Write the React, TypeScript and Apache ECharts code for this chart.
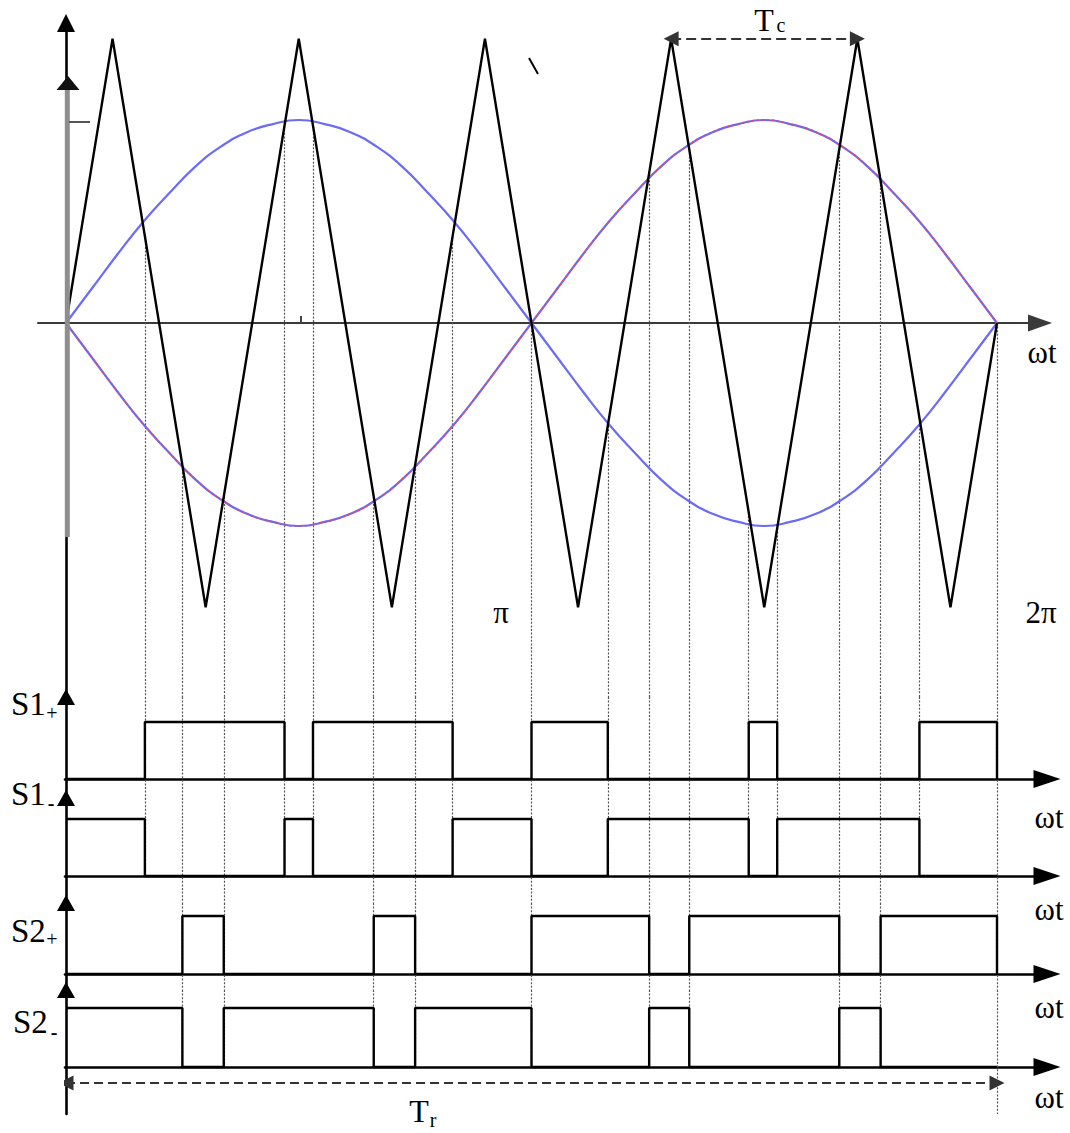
import React, { useEffect, useRef } from "react";
import * as echarts from "echarts";

// ---- data (angles in degrees, 360 = 2π) ----

// sample angles of the two reference sinusoids
const refAngles = [
  0, 10, 20, 30, 40, 50, 60, 70, 80, 90, 100, 110, 120, 130, 140, 150, 160, 170, 180,
  190, 200, 210, 220, 230, 240, 250, 260, 270, 280, 290, 300, 310, 320, 330, 340, 350, 360,
];
// reference for leg 1 (blue)
const refLeg1 = [
  0, 0.17, 0.34, 0.5, 0.64, 0.77, 0.87, 0.94, 0.98, 1, 0.98, 0.94, 0.87, 0.77, 0.64, 0.5, 0.34, 0.17, 0,
  -0.17, -0.34, -0.5, -0.64, -0.77, -0.87, -0.94, -0.98, -1, -0.98, -0.94, -0.87, -0.77, -0.64, -0.5, -0.34, -0.17, 0,
];
// reference for leg 2 (inverted)
const refLeg2 = [
  0, -0.17, -0.34, -0.5, -0.64, -0.77, -0.87, -0.94, -0.98, -1, -0.98, -0.94, -0.87, -0.77, -0.64, -0.5, -0.34, -0.17, 0,
  0.17, 0.34, 0.5, 0.64, 0.77, 0.87, 0.94, 0.98, 1, 0.98, 0.94, 0.87, 0.77, 0.64, 0.5, 0.34, 0.17, 0,
];

// triangular carrier vertices
const carrierAngles = [0, 18, 54, 90, 126, 162, 198, 234, 270, 306, 342, 360];
const carrierLevels = [0, 1.4, -1.4, 1.4, -1.4, 1.4, -1.4, 1.4, -1.4, 1.4, -1.4, 0];

// switching instants of leg 1 and leg 2
const s1Edges = [30.5, 84.5, 95.5, 149.5, 180, 209.5, 264, 275, 330, 360];
const s2Edges = [45, 61, 119, 135, 180, 225.5, 241, 299, 315, 360];

// ---- layout ----
const FONT = "'Liberation Serif', 'DejaVu Serif', serif";
const X0 = 66; // pixel of ωt = 0
const X360 = 997; // pixel of ωt = 2π
const PX_PER_DEG = (X360 - X0) / 360;
const toDeg = (px: number) => (px - X0) / PX_PER_DEG;

type Panel = { top: number; bottom: number; zero: number; unit: number; left: number; right: number };
const panels: Panel[] = [
  { top: 23, bottom: 697, zero: 323, unit: 203, left: 38, right: 1040 },
  { top: 697, bottom: 798, zero: 779, unit: 57, left: 65, right: 1047 },
  { top: 798, bottom: 903, zero: 876, unit: 57, left: 65, right: 1047 },
  { top: 903, bottom: 990, zero: 974, unit: 58, left: 65, right: 1047 },
  { top: 990, bottom: 1114, zero: 1067, unit: 59, left: 65, right: 1047 },
];
const yMin = (i: number) => (panels[i].zero - panels[i].bottom) / panels[i].unit;
const yMax = (i: number) => (panels[i].zero - panels[i].top) / panels[i].unit;

function carrierAt(a: number) {
  for (let i = 1; i < carrierAngles.length; i++) {
    if (a <= carrierAngles[i]) {
      const a0 = carrierAngles[i - 1];
      const a1 = carrierAngles[i];
      const t = (a - a0) / (a1 - a0);
      return carrierLevels[i - 1] + t * (carrierLevels[i] - carrierLevels[i - 1]);
    }
  }
  return carrierLevels[carrierLevels.length - 1];
}

function stepTrace(edges: number[], startLevel: number, toggleLast: boolean) {
  let level = startLevel;
  const pts: number[][] = [[0, level]];
  edges.forEach((e, i) => {
    pts.push([e, level]);
    if (i < edges.length - 1 || toggleLast) {
      level = 1 - level;
      pts.push([e, level]);
    }
  });
  return pts;
}

function buildOption() {
  const grids = panels.map((p) => ({
    left: p.left,
    top: p.top,
    width: p.right - p.left,
    height: p.bottom - p.top,
    containLabel: false,
    outerBoundsMode: "none",
  }));

  const xAxes = panels.map((p, i) => ({
    type: "value",
    gridIndex: i,
    min: toDeg(p.left),
    max: toDeg(p.right),
    axisLine: {
      show: true,
      onZero: true,
      symbol: ["none", "triangle"],
      symbolSize: i === 0 ? [17, 24] : [18, 27],
      lineStyle: { color: i === 0 ? "#3a3a3a" : "#000", width: i === 0 ? 2 : 2.6 },
    },
    axisTick: { show: false },
    axisLabel: { show: false },
    splitLine: { show: false },
  }));

  const yAxes = panels.map((p, i) => ({
    type: "value",
    gridIndex: i,
    min: yMin(i),
    max: yMax(i),
    axisLine: {
      show: true,
      onZero: true,
      symbol: ["none", "triangle"],
      symbolSize: [18, i === 0 ? 18 : 16],
      lineStyle: { color: "#000", width: 2.6 },
    },
    axisTick: { show: false },
    axisLabel: { show: false },
    splitLine: { show: false },
  }));

  // dotted projection lines from each switching instant
  const edgeSet = Array.from(new Set([...s1Edges, ...s2Edges])).sort((a, b) => a - b);
  const lastEdge = edgeSet[edgeSet.length - 1];
  const dotSegs: number[][][][] = panels.map(() => []);
  edgeSet.forEach((e) => {
    const depth = s2Edges.includes(e) ? 4 : 2;
    for (let i = 0; i <= depth; i++) {
      const from = i === 0 ? carrierAt(e) : yMax(i);
      const to = i === depth && e !== lastEdge ? 0 : yMin(i);
      dotSegs[i].push([
        [e, from],
        [e, to],
      ]);
    }
  });

  const series: any[] = [];

  dotSegs.forEach((segs, i) => {
    series.push({
      type: "lines",
      coordinateSystem: "cartesian2d",
      xAxisIndex: i,
      yAxisIndex: i,
      silent: true,
      z: 1,
      lineStyle: { color: "#555", width: 1.2, type: [2, 1.6], opacity: 1 },
      data: segs.map((c) => ({ coords: c })),
    });
  });

  // reference sinusoids
  series.push({
    type: "line",
    xAxisIndex: 0,
    yAxisIndex: 0,
    smooth: true,
    symbol: "none",
    z: 3,
    lineStyle: { color: "#6b6bf6", width: 2.2 },
    data: refAngles.map((a, i) => [a, refLeg1[i]]),
  });
  series.push({
    type: "line",
    xAxisIndex: 0,
    yAxisIndex: 0,
    smooth: true,
    symbol: "none",
    z: 3,
    lineStyle: { color: "#6b6bf6", width: 2.2 },
    data: refAngles.map((a, i) => [a, refLeg2[i]]),
  });
  series.push({
    type: "line",
    xAxisIndex: 0,
    yAxisIndex: 0,
    smooth: true,
    symbol: "none",
    z: 3,
    lineStyle: { color: "#e4466c", width: 1.6, type: [2, 3] },
    data: refAngles.map((a, i) => [a, refLeg2[i]]),
  });

  // triangular carrier
  series.push({
    type: "line",
    xAxisIndex: 0,
    yAxisIndex: 0,
    symbol: "none",
    z: 4,
    lineStyle: { color: "#000", width: 2.4 },
    data: carrierAngles.map((a, i) => [a, carrierLevels[i]]),
  });

  // carrier period Tc between two successive peaks
  series.push({
    type: "lines",
    coordinateSystem: "cartesian2d",
    xAxisIndex: 0,
    yAxisIndex: 0,
    silent: true,
    z: 5,
    symbol: ["triangle", "triangle"],
    symbolSize: 15,
    lineStyle: { color: "#333", width: 2, type: [10, 5], opacity: 1 },
    data: [
      {
        coords: [
          [carrierAngles[7], carrierLevels[7]],
          [carrierAngles[9], carrierLevels[9]],
        ],
      },
    ],
  });

  // gate signals
  const signals = [
    { grid: 1, edges: s1Edges, start: 0, toggleLast: true },
    { grid: 2, edges: s1Edges, start: 1, toggleLast: false },
    { grid: 3, edges: s2Edges, start: 0, toggleLast: true },
    { grid: 4, edges: s2Edges, start: 1, toggleLast: false },
  ];
  signals.forEach((s) => {
    series.push({
      type: "line",
      xAxisIndex: s.grid,
      yAxisIndex: s.grid,
      symbol: "none",
      z: 4,
      lineStyle: { color: "#000", width: 2.4 },
      data: stepTrace(s.edges, s.start, s.toggleLast),
    });
  });

  // reference period Tr
  series.push({
    type: "lines",
    coordinateSystem: "cartesian2d",
    xAxisIndex: 4,
    yAxisIndex: 4,
    silent: true,
    z: 5,
    symbol: ["triangle", "triangle"],
    symbolSize: 15,
    lineStyle: { color: "#333", width: 2, type: [9, 5], opacity: 1 },
    data: [
      {
        coords: [
          [0, -0.27],
          [lastEdge, -0.27],
        ],
      },
    ],
  });

  const text = (t: string, x: number, y: number, size: number, align = "center", weight = "normal") => ({
    type: "text",
    x,
    y,
    z: 60,
    silent: true,
    style: {
      text: t,
      fill: "#000",
      fontSize: size,
      fontFamily: FONT,
      fontWeight: weight,
      align,
      verticalAlign: "middle",
    },
  });

  const graphic: any[] = [
    // leftover axis of the reference plot
    { type: "line", z: 50, silent: true, shape: { x1: 67.3, y1: 90, x2: 67.3, y2: 537 }, style: { stroke: "#8e8e8e", lineWidth: 5 } },
    { type: "polygon", z: 51, silent: true, shape: { points: [[68, 76], [79.5, 90], [56.5, 90]] }, style: { fill: "#111" } },
    { type: "line", z: 50, silent: true, shape: { x1: 69, y1: 122, x2: 90, y2: 122 }, style: { stroke: "#555", lineWidth: 2 } },
    { type: "line", z: 50, silent: true, shape: { x1: 301, y1: 316, x2: 301, y2: 323 }, style: { stroke: "#444", lineWidth: 2 } },
    { type: "line", z: 50, silent: true, shape: { x1: 529, y1: 58, x2: 538, y2: 74 }, style: { stroke: "#000", lineWidth: 2 } },

    text("ωt", 1042, 352, 31),
    text("π", 501, 612, 31),
    text("2π", 1041, 612, 31),
    text("T", 764, 20, 32),
    text("c", 781, 25, 20),
    text("T", 419, 1111, 32),
    text("r", 433, 1120, 20),

    text("S1", 11, 704, 33, "left"),
    text("+", 52, 713, 20),
    text("S1", 11, 794, 33, "left"),
    text("-", 51, 803, 20, "center", "bold"),
    text("S2", 11, 931, 33, "left"),
    text("+", 52, 939, 20),
    text("S2", 13, 1022, 33, "left"),
    text("-", 54, 1032, 20, "center", "bold"),

    text("ωt", 1049, 817, 31),
    text("ωt", 1049, 909, 31),
    text("ωt", 1049, 1007, 31),
    text("ωt", 1049, 1097, 31),
  ];

  return {
    animation: false,
    backgroundColor: "#fff",
    grid: grids,
    xAxis: xAxes,
    yAxis: yAxes,
    series,
    graphic,
  };
}

export default function App() {
  const ref = useRef<HTMLDivElement>(null);
  useEffect(() => {
    if (!ref.current) return;
    const chart = echarts.init(ref.current, undefined, { renderer: "svg" });
    chart.setOption(buildOption() as any);
    return () => chart.dispose();
  }, []);
  return (
    <div
      ref={ref}
      style={{ position: "absolute", left: 0, top: 0, width: 1070, height: 1133, background: "#fff" }}
    />
  );
}
